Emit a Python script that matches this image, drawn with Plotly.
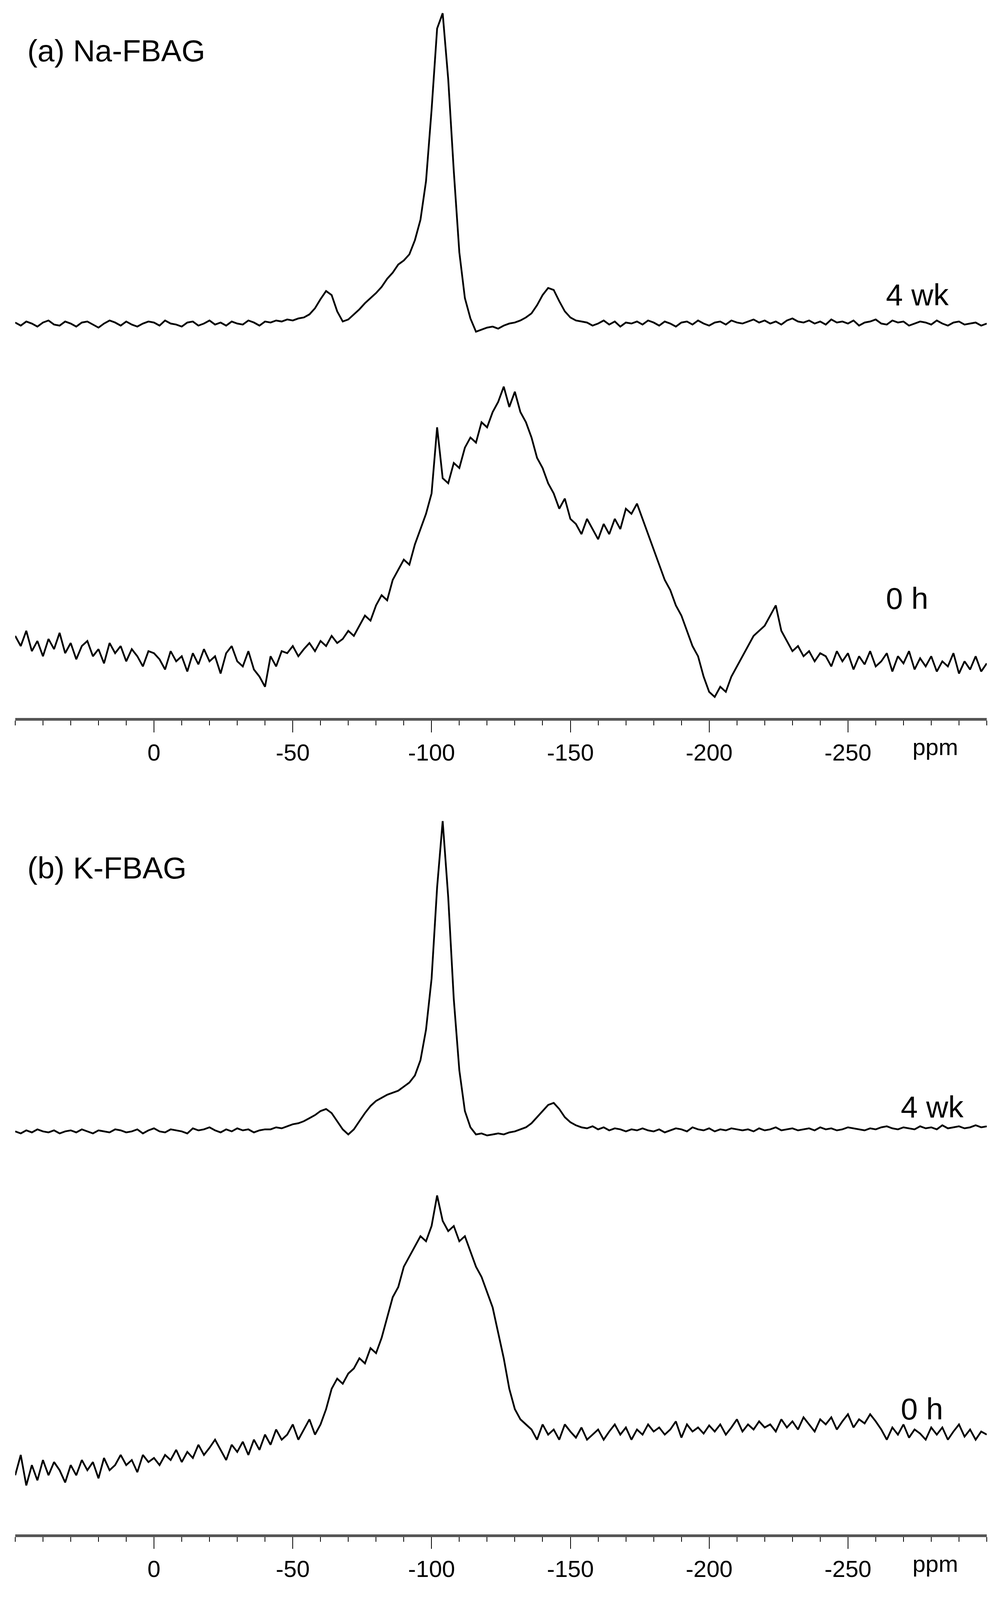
import numpy as np
import plotly.graph_objects as go

# intensities (height above baseline) sampled every 2 ppm from 50 to -300 ppm
a_4wk = ([1,-2,2,0,-3,1,3,-1,-2,2, 0,-3,1,2,-1,-4,0,3,1,-2, 2,-1,-3,0,2,1,-2,3,0,-1,
          -3,1,2,-2,0,3,-1,1,-2,2, 0,-1,3,1,-2,2]
         + [1,3,2,4,3,5,6,9,15,24,32]
         + [28,12,2,4,9,14,20,25,30,36,44,50,58,62,68,82,102,140,210,290,305,240,150,70,25,5,
            -8,-6,-4,-3,-5,-2,0,1,3,6,10,18,28,35,33,22,12,6,3,2]
         + [1,-2,0,3,-1,2,-3,1,0,2, -1,3,1,-2,2,0,-3,1,2,-1, 3,0,-2,1,2,-1,3,1,0,2,
            4,1,3,0,2,-1,3,5,2,1, 3,0,2,-1,4,1,2,0,3,-2, 1,2,4,0,-1,3,1,2,-2,0,
            2,1,-1,3,0,-2,1,2,-1,0, 1,-2,0])
a_0h = ([25,15,30,10,20,5,22,12,28,8, 18,2,15,20,5,12,-2,18,8,15, 0,12,5,-5,10,8]
        + [2,-8,10,0,5,-10,8,-3,12,0, 5,-12,8,15,0,-5,10,-8,-15,-25]
        + [5,-5,10,8,15,5,12,18,10,20]
        + [15,25,18,22,30,25,35,45,40,55]
        + [65,60,80,90,100,95,115,130,145,165]
        + [230,180,175,195,190,210,220,215,235,230]
        + [245,255,270,250,265,245,235,220,200,190]
        + [175,165,150,160,140,135,125,140,130,120]
        + [135,125,140,130,150,145,155,140,125,110]
        + [95,80,70,55,45,30,15,5,-15,-30]
        + [-35,-25,-30,-15,-5,5,15,25,30,35]
        + [45,55,30,20,10,15,5,10,0,8]
        + [5,-5,10,0,8,-8,5,-3,10,-5]
        + [0,8,-10,5,-2,10,-8,3,-5,5]
        + [-10,0,-5,8,-12,0,-8,5,-10,-2])
b_4wk = ([0,-2,1,-1,2,0,-1,1,-2,0, 1,-1,2,0,-2,1,0,-1,2,1, -1,0,2,-2,1,3,0,-1,2,1,
          0,-2,3,1,2,4,1,-1,2,0, 3,1,2,-1,1,2]
         + [2,4,3,5,7,8,10,13,16,20,22]
         + [18,10,2,-3,2,10,18,25,30,33,36,38,40,44,48,55,70,100,150,240,305,230,130,60,20,4,
            -3,-2,-4,-3,-2,-3,-1,0,2,4,8,14,20,26,28,22,14,9,6,4]
         + [3,5,2,4,1,3,2,0,2,1, 3,1,0,2,-1,1,3,2,0,4, 2,1,3,0,2,1,3,2,1,2,
            0,3,1,2,4,1,2,3,1,2, 3,1,4,2,3,1,2,4,3,2, 1,3,2,4,5,3,2,4,3,2,
            5,3,4,2,6,3,4,5,3,4, 6,4,5])
b_0h = ([-5,15,-15,5,-10,10,-5,8,0,-12, 5,-5,10,0,8,-8,12,0,5,15, 5,10,-2,15,8,12]
        + [5,15,10,20,8,18,12,25,15,22, 30,20,10,25,18,28,15,30,20,35]
        + [25,40,30,35,45,30,40,50,35,45]
        + [60,80,90,85,95,100,110,105,120,115]
        + [130,150,170,180,200,210,220,230,225,240]
        + [270,245,235,240,225,230,215,200,190,175]
        + [160,135,110,80,60,50,45,40,30,45]
        + [35,40,30,45,38,32,42,30,35,40]
        + [30,38,45,35,42,30,40,35,45,38]
        + [42,35,40,48,32,45,38,42,36,44]
        + [38,45,35,42,50,38,45,40,48,42]
        + [45,38,50,42,48,40,52,45,38,50]
        + [45,52,40,48,55,42,50,46,55,48]
        + [40,30,42,35,45,32,40,36,30,42]
        + [35,42,30,38,45,33,40,30,38,35])

tick_vals = [0, -50, -100, -150, -200, -250]
tick_text = ["0", "-50", "-100", "-150", "-200", "-250"]

REF_H = 4219
FIG_H = 4070  # visible height of the browser viewport
S = 2.7
AX_A = 1905
AX_B = 4072
TOP_B = 0.5

def ppm_for(v):
    return np.linspace(50, -300, len(v))

fig = go.Figure()
series = [(a_4wk, 318, "x", "y"), (a_0h, 650, "x", "y"),
          (b_4wk, 1112, "x2", "y2"), (b_0h, 1445, "x2", "y2")]
for vals, base, xa, ya in series:
    fig.add_trace(go.Scatter(x=ppm_for(vals), y=[base - v for v in vals], mode="lines",
                             line=dict(color="black", width=4.5), xaxis=xa, yaxis=ya,
                             showlegend=False, cliponaxis=False))

def xax(anchor):
    return dict(range=[50, -300], domain=[0.0153, 0.9937], anchor=anchor,
                showgrid=False, zeroline=False, showline=True, linecolor="#555",
                linewidth=7, ticks="outside", ticklen=30, tickwidth=2, tickcolor="black",
                tickvals=tick_vals, ticktext=tick_text,
                tickfont=dict(family="Liberation Sans Narrow, Liberation Sans", size=60, color="black"),
                minor=dict(dtick=10, tick0=0, ticks="outside", ticklen=12, tickwidth=2,
                           tickcolor="black"))

fig.update_layout(
    width=2541, height=FIG_H, margin=dict(l=0, r=0, t=0, b=0),
    paper_bgcolor="white", plot_bgcolor="white",
    xaxis=xax("y"),
    xaxis2=xax("y2"),
    yaxis=dict(domain=[1 - AX_A / REF_H, 1], range=[AX_A / S, 0], visible=False),
    yaxis2=dict(domain=[1 - AX_B / REF_H, TOP_B], range=[AX_B / S, (1 - TOP_B) * REF_H / S],
                visible=False),
)

def ann(text, xd, yd, size, ya):
    fig.add_annotation(text=text, x=xd / 940, xref="paper", y=yd, yref=ya, xanchor="left",
                       yanchor="middle", showarrow=False,
                       font=dict(family="Liberation Sans", size=size, color="black"))

ann("(a) Na-FBAG", 25, 50, 78, "y")
ann("4 wk", 838, 290, 78, "y")
ann("0 h", 838, 588, 78, "y")
ann("(b) K-FBAG", 25, 853, 78, "y2")
ann("4 wk", 852, 1088, 78, "y2")
ann("0 h", 852, 1385, 78, "y2")
for yp in [1 - 1983 / REF_H, 1 - 4150 / REF_H]:
    fig.add_annotation(text="ppm", x=2454 / 2541, xref="paper", y=yp, yref="paper",
                       showarrow=False, yanchor="middle",
                       font=dict(family="Liberation Sans Narrow, Liberation Sans", size=60, color="black"))

fig.write_html("out.html", config={"displayModeBar": False},
               post_script="document.body.style.margin='0';document.body.style.overflow='hidden';")
